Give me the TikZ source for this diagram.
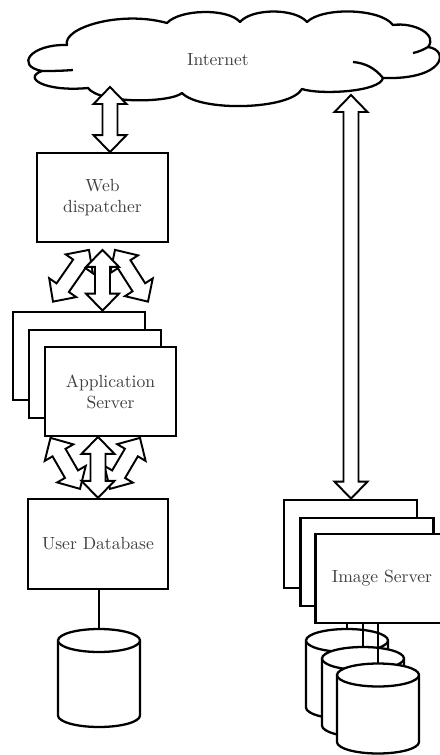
\documentclass[tikz,border=0pt]{standalone}
\usetikzlibrary{calc}
\newcommand\hdlen{0.34cm}
\newcommand\hdwid{0.33cm}
\newcommand\shwid{0.15cm}
% disk: name, x, y, half body length (all in px)
\newcommand\dbdisk[4]{%
  \coordinate (#1) at (#2,#3);
  \coordinate (#1-top) at (#2,#3-#4-11.5);
  \filldraw[disklook] (#2-41,#3-#4) -- (#2-41,#3+#4)
    arc[start angle=180, end angle=360, x radius=0.82cm, y radius=0.23cm] -- (#2+41,#3-#4)
    arc[start angle=0, end angle=180, x radius=0.82cm, y radius=0.23cm] -- cycle;
  \draw[disklook] (#2-41,#3-#4) arc[start angle=180, end angle=360, x radius=0.82cm, y radius=0.23cm];
}

\begin{document}
\begin{tikzpicture}[x=0.02cm, y=-0.02cm,
  box/.style={draw, fill=white, line width=1.3pt, minimum width=2.63cm, minimum height=1.77cm, align=center, text=black!75},
  disklook/.style={fill=white, line width=1.3pt},
  link/.style={line width=1.3pt},
  fatarrow/.style={draw, fill=white, line width=1.1pt, line join=miter,
    to path={
      -- ($(\tikztostart)!\hdlen!(\tikztotarget)!\hdwid!90:(\tikztotarget)$)
      -- ($(\tikztostart)!\hdlen!(\tikztotarget)!\shwid!90:(\tikztotarget)$)
      -- ($(\tikztotarget)!\hdlen!(\tikztostart)!\shwid!-90:(\tikztostart)$)
      -- ($(\tikztotarget)!\hdlen!(\tikztostart)!\hdwid!-90:(\tikztostart)$)
      -- (\tikztotarget)
      -- ($(\tikztotarget)!\hdlen!(\tikztostart)!\hdwid!90:(\tikztostart)$)
      -- ($(\tikztotarget)!\hdlen!(\tikztostart)!\shwid!90:(\tikztostart)$)
      -- ($(\tikztostart)!\hdlen!(\tikztotarget)!\shwid!-90:(\tikztotarget)$)
      -- ($(\tikztostart)!\hdlen!(\tikztotarget)!\hdwid!-90:(\tikztotarget)$)
      -- cycle}}]

  \useasboundingbox (0,0) rectangle (440,755);

  %%%%% INTERNET %%%%%
  \draw[line width=1.3pt, fill=white, line join=round]
    (67,45) .. controls (62,28) and (120,10) .. (167,23)
    .. controls (180,9) and (228,8) .. (240,22)
    .. controls (252,8) and (295,8) .. (307,22)
    .. controls (322,7) and (380,8) .. (393,25)
    .. controls (415,22) and (438,35) .. (428,47)
    .. controls (450,50) and (445,80) .. (383,78)
    .. controls (380,92) and (320,95) .. (302,89)
    .. controls (290,110) and (200,112) .. (182,93)
    .. controls (170,103) and (100,104) .. (88,88)
    .. controls (45,92) and (22,78) .. (42,71)
    .. controls (15,66) and (30,44) .. (67,45) -- cycle;
  \draw[line width=1.3pt] (428,47) .. controls (423,50) and (418,52) .. (413,53);
  \draw[line width=1.3pt] (383,78) .. controls (375,68) and (365,63) .. (353,62);
  \draw[line width=1.3pt] (42,71) .. controls (50,71) and (60,71) .. (73,70);
  \node[text=black!75] (internet) at (218,60) {Internet};
  \coordinate (netL) at (110,87);
  \coordinate (netR) at (351,95);

  %%%%% LEFT COLUMN %%%%%
  \node[box] (web) at (102.5,197.5) {Web\\dispatcher};

  \node[box] (appA) at (79,356) {};
  \node[box] (appB) at (95,374) {};
  \node[box] (appC) at (110.5,391.5) {Application\\Server};

  \node[box, minimum width=2.8cm, minimum height=1.8cm] (userdb) at (98,544) {User Database};
  \dbdisk{udisk}{99}{678}{37.5}
  \draw[link] (userdb.south -| udisk-top) -- (udisk-top);

  %%%%% RIGHT COLUMN %%%%%
  \node[box, minimum width=2.66cm] (imgA) at (350.5,544) {};
  \node[box, minimum width=2.66cm] (imgB) at (367,562) {};
  \node[box, minimum width=2.66cm] (imgC) at (382,578.5) {Image Server};

  \dbdisk{idiskA}{347}{674}{33.5}
  \dbdisk{idiskB}{363}{692}{33.5}
  \dbdisk{idiskC}{378}{708.5}{33.5}
  \draw[link] (imgC.south -| idiskA-top) -- (idiskA-top);
  \draw[link] (imgC.south -| idiskB-top) -- (idiskB-top);
  \draw[link] (imgC.south -| idiskC-top) -- (idiskC-top);

  %%%%% ARROWS %%%%%
  \draw[fatarrow] (netL) to (netL |- web.north);
  \draw[fatarrow] (netR) to (netR |- imgA.north);

  \draw[fatarrow] ([shift={(-0.27cm,-0.14cm)}]web.south) to ([shift={(-0.52cm,0.18cm)}]appA.north);
  \draw[fatarrow] ([shift={(0.25cm,-0.14cm)}]web.south) to ([shift={(1.38cm,0.18cm)}]appA.north);
  \draw[fatarrow] ([yshift=-0.14cm]web.south) to (web.south |- appA.north);

  \draw[fatarrow] ([shift={(-1.2cm,-0.02cm)}]appC.south) to ([shift={(-0.36cm,0.18cm)}]userdb.north);
  \draw[fatarrow] ([shift={(0.59cm,-0.02cm)}]appC.south) to ([shift={(0.24cm,0.18cm)}]userdb.north);
  \draw[fatarrow] (userdb.north |- appC.south) to (userdb.north);

\end{tikzpicture}
\end{document}
